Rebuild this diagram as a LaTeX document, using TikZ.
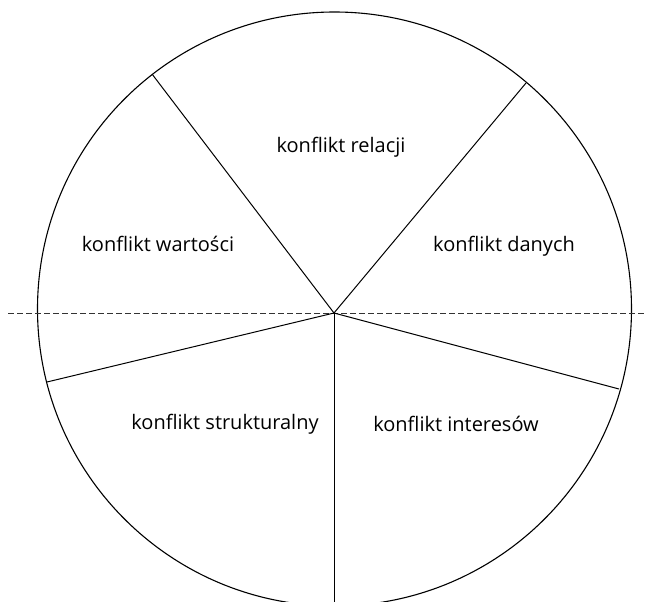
\documentclass[tikz,border=0pt]{standalone}
\usepackage{fontspec}
\setmainfont{Open Sans}
\begin{document}
\begin{tikzpicture}[x=1pt,y=-1pt,
  spoke/.style={line width=1pt, black},
  rim/.style={line width=1.1pt, black},
  axis/.style={line width=1pt, black!80, dash pattern=on 5.5pt off 3.5pt},
  lbl/.style={font=\fontsize{20}{22}\selectfont, inner sep=0pt}]
\useasboundingbox (0,0) rectangle (649,602);
\clip (0,0) rectangle (649,602);
\coordinate (c) at (334,313);
\coordinate (ul) at (152,74);
\coordinate (ur) at (526,83);
\coordinate (ll) at (47,382);
\coordinate (lr) at (619,389);
\coordinate (bt) at (334,620);
\coordinate (dl) at (8,313);
\coordinate (dr) at (645,313);
\draw[rim] (334.5,309) circle[radius=297];
\draw[axis] (dl) -- (dr);
\draw[spoke] (c) -- (ul);
\draw[spoke] (c) -- (ur);
\draw[spoke] (c) -- (ll);
\draw[spoke] (c) -- (lr);
\draw[spoke] (c) -- (bt);
\node[lbl] (rel) at (341,147) {konflikt relacji};
\node[lbl] (war) at (158,244) {konflikt wartości};
\node[lbl] (dan) at (504,246) {konflikt danych};
\node[lbl] (str) at (225,424) {konflikt strukturalny};
\node[lbl] (int) at (456,424) {konflikt interesów};
\end{tikzpicture}
\end{document}
